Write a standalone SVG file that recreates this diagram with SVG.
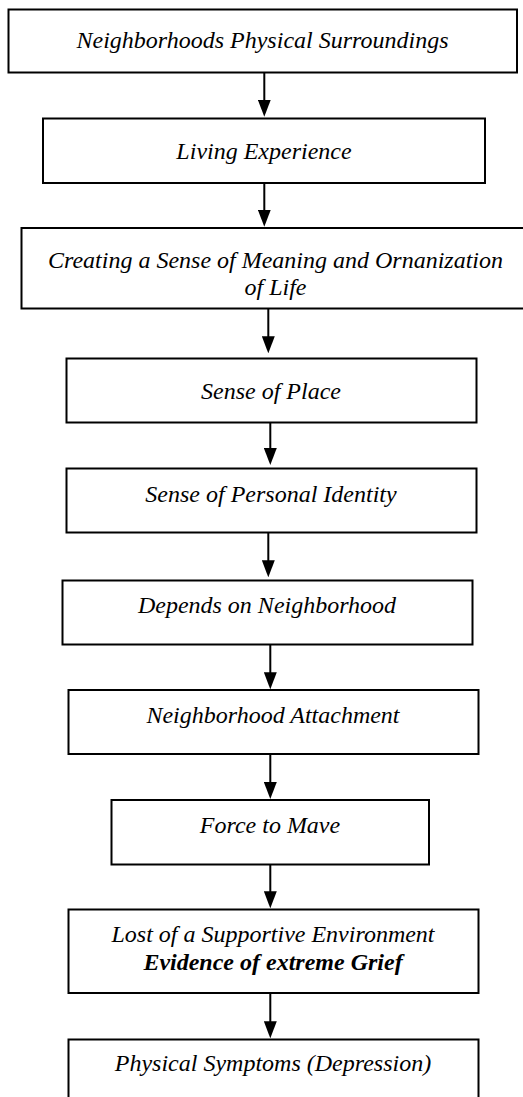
<svg xmlns="http://www.w3.org/2000/svg" width="523" height="1097" viewBox="0 0 523 1097">
<style>
.box{fill:#fff;stroke:#000;stroke-width:2}
.t{font-family:"Liberation Serif","Times New Roman",serif;font-style:italic;font-size:24px;fill:#000;text-anchor:middle}
.b{font-weight:bold}
.c{stroke:#000;stroke-width:2;fill:none;marker-end:url(#ah)}
</style>
<defs>
<marker id="ah" markerUnits="userSpaceOnUse" markerWidth="17" markerHeight="13" viewBox="0 0 17 13" refX="7" refY="6.5" orient="auto">
<path d="M0,0 L17,6.5 L0,13 Z" fill="#000"/>
</marker>
</defs>
<rect width="523" height="1097" fill="#fff"/>
<g id="connectors">
<line class="c" x1="264.3" y1="72.7" x2="264.3" y2="106.7"/>
<line class="c" x1="264.3" y1="183" x2="264.3" y2="216.7"/>
<line class="c" x1="268.3" y1="308.7" x2="268.3" y2="343.3"/>
<line class="c" x1="270.3" y1="422.7" x2="270.3" y2="455"/>
<line class="c" x1="268.3" y1="532.7" x2="268.3" y2="567.3"/>
<line class="c" x1="270.3" y1="644.7" x2="270.3" y2="679.3"/>
<line class="c" x1="270.3" y1="754.3" x2="270.3" y2="789"/>
<line class="c" x1="270.3" y1="864.7" x2="270.3" y2="898.3"/>
<line class="c" x1="270.3" y1="993.3" x2="270.3" y2="1028.3"/>
</g>
<g id="n1"><rect class="box" x="8.5" y="9.5" width="508.5" height="63"/><text class="t" x="262.5" y="48.3">Neighborhoods Physical Surroundings</text></g>
<g id="n2"><rect class="box" x="43" y="118.5" width="442" height="64.5"/><text class="t" x="264" y="159.3">Living Experience</text></g>
<g id="n3"><rect class="box" x="21.5" y="228" width="508" height="80.5"/><text class="t" x="275.5" y="268.3">Creating a Sense of Meaning and Ornanization</text><text class="t" x="275.5" y="295">of Life</text></g>
<g id="n4"><rect class="box" x="66.5" y="358.5" width="410" height="64"/><text class="t" x="271" y="399">Sense of Place</text></g>
<g id="n5"><rect class="box" x="66.5" y="468.5" width="410" height="64"/><text class="t" x="271" y="501.7">Sense of Personal Identity</text></g>
<g id="n6"><rect class="box" x="62.5" y="580.5" width="410" height="64"/><text class="t" x="267" y="613.3">Depends on Neighborhood</text></g>
<g id="n7"><rect class="box" x="68.5" y="690" width="410" height="64"/><text class="t" x="273" y="722.7">Neighborhood Attachment</text></g>
<g id="n8"><rect class="box" x="111.5" y="800" width="317.5" height="64.5"/><text class="t" x="270" y="833.3">Force to Mave</text></g>
<g id="n9"><rect class="box" x="68.5" y="909.5" width="410" height="83.5"/><text class="t" x="273" y="941.7">Lost of a Supportive Environment</text><text class="t b" x="273" y="970">Evidence of extreme Grief</text></g>
<g id="n10"><rect class="box" x="68.5" y="1039.5" width="410" height="80"/><text class="t" x="273" y="1070.7">Physical Symptoms (Depression)</text></g>
</svg>
